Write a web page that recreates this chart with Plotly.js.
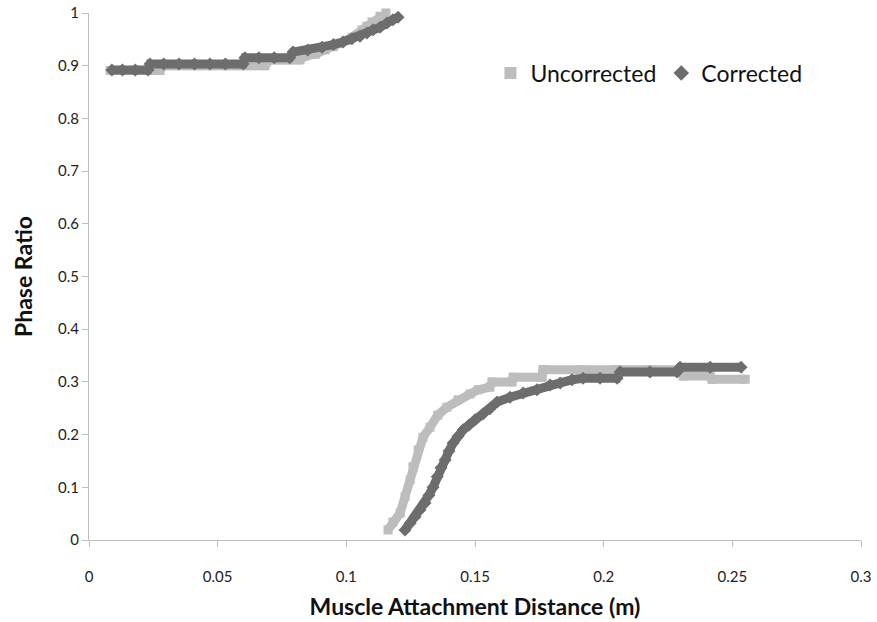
<!DOCTYPE html>
<html>
<head>
<meta charset="utf-8">
<script src="https://cdn.plot.ly/plotly-3.0.1.min.js"></script>
<style>
  html, body { margin: 0; padding: 0; background: #ffffff; }
  #chart { width: 877px; height: 622px; }
</style>
</head>
<body>
<div id="chart"></div>
<script>
// Uncorrected series (upper branch, gap, lower branch)
const uncorrectedX = [
  0.0082, 0.012, 0.016, 0.020, 0.024, 0.0276, 0.0288, 0.033, 0.038, 0.043, 0.048, 0.053, 0.058, 0.063, 0.0684,
  0.0703, 0.074, 0.078, 0.082, 0.0839, 0.088, 0.0917, 0.095, 0.0976, 0.100, 0.1022, 0.1061, 0.108, 0.110, 0.1131, 0.1154,
  null,
  0.1162, 0.1181, 0.1209, 0.1228, 0.1248, 0.1259, 0.1279, 0.1298, 0.1325, 0.1356, 0.1391, 0.1434, 0.1481, 0.1512,
  0.1558, 0.1566, 0.1644, 0.1648, 0.1761, 0.1764, 0.191, 0.2052, 0.218, 0.2297, 0.2309, 0.2414, 0.2421, 0.2550
];
const uncorrectedY = [
  0.891, 0.891, 0.891, 0.891, 0.891, 0.891, 0.900, 0.900, 0.900, 0.900, 0.900, 0.900, 0.900, 0.900, 0.900,
  0.911, 0.911, 0.911, 0.911, 0.918, 0.922, 0.930, 0.936, 0.943, 0.948, 0.954, 0.968, 0.975, 0.983, 0.994, 1.000,
  null,
  0.019, 0.034, 0.051, 0.082, 0.114, 0.139, 0.171, 0.195, 0.214, 0.237, 0.252, 0.266, 0.277, 0.285,
  0.290, 0.300, 0.300, 0.309, 0.309, 0.323, 0.323, 0.323, 0.323, 0.323, 0.311, 0.311, 0.305, 0.305
];

// Corrected series (upper branch, gap, lower branch)
const correctedX = [
  0.0089, 0.013, 0.018, 0.0229, 0.0237, 0.029, 0.035, 0.041, 0.047, 0.053, 0.0599,
  0.0606, 0.066, 0.072, 0.078, 0.0793, 0.085, 0.0906, 0.095, 0.0987, 0.1022, 0.1053, 0.108, 0.1104, 0.1131, 0.1158, 0.1181, 0.1201,
  null,
  0.1228, 0.1248, 0.1267, 0.1286, 0.1306, 0.1321, 0.1337, 0.1353, 0.1368, 0.1384, 0.1399, 0.1415, 0.1434, 0.1454,
  0.1477, 0.1500, 0.1531, 0.1558, 0.1586, 0.1636, 0.1687, 0.1741, 0.1792, 0.1831, 0.1877, 0.1920, 0.1986, 0.2052,
  0.2064, 0.2180, 0.2285, 0.2297, 0.2414, 0.2534
];
const correctedY = [
  0.892, 0.892, 0.892, 0.892, 0.903, 0.903, 0.903, 0.903, 0.903, 0.903, 0.903,
  0.915, 0.915, 0.915, 0.915, 0.926, 0.930, 0.935, 0.940, 0.945, 0.951, 0.956, 0.962, 0.968, 0.973, 0.981, 0.987, 0.992,
  null,
  0.019, 0.032, 0.044, 0.057, 0.070, 0.085, 0.100, 0.120, 0.137, 0.152, 0.169, 0.184, 0.197, 0.209,
  0.218, 0.228, 0.239, 0.249, 0.262, 0.271, 0.279, 0.285, 0.294, 0.298, 0.304, 0.307, 0.307, 0.307,
  0.319, 0.319, 0.319, 0.328, 0.328, 0.328
];

const seriesNames = ["Uncorrected", "Corrected"];
const lightGray = "#bdbdbd";
const darkGray = "#6d6d6d";
const FONT = "Lato, 'Open Sans', 'DejaVu Sans', sans-serif";

const traces = [
  { x: uncorrectedX, y: uncorrectedY, type: "scatter", mode: "lines", connectgaps: false,
    line: { color: lightGray, width: 9 }, showlegend: false, hoverinfo: "skip", cliponaxis: false },
  { x: uncorrectedX, y: uncorrectedY, type: "scatter", mode: "markers", name: seriesNames[0],
    marker: { symbol: "square", size: 9, color: lightGray }, cliponaxis: false },
  { x: correctedX, y: correctedY, type: "scatter", mode: "lines", connectgaps: false,
    line: { color: darkGray, width: 9 }, showlegend: false, hoverinfo: "skip", cliponaxis: false },
  { x: correctedX, y: correctedY, type: "scatter", mode: "markers", name: seriesNames[1],
    marker: { symbol: "diamond", size: 10, color: darkGray }, cliponaxis: false }
];

const layout = {
  width: 877, height: 622,
  paper_bgcolor: "#ffffff", plot_bgcolor: "#ffffff",
  margin: { l: 89, r: 16, t: 13, b: 82, pad: 0 },
  font: { family: FONT, size: 15, color: "#222222" },
  xaxis: {
    range: [0, 0.3], dtick: 0.05, tick0: 0,
    showgrid: false, zeroline: false,
    showline: true, linecolor: "#bfbfbf", linewidth: 1,
    ticks: "outside", ticklen: 6, tickcolor: "#bfbfbf", tickwidth: 1,
    ticklabelstandoff: 17,
    tickfont: { family: FONT, size: 15, color: "#222222" },
    title: { text: "Muscle Attachment Distance (m)", font: { family: FONT, size: 23, color: "#111111", weight: "bold" }, standoff: 14 }
  },
  yaxis: {
    range: [0, 1], dtick: 0.1, tick0: 0,
    showgrid: false, zeroline: false,
    showline: true, linecolor: "#bfbfbf", linewidth: 1,
    ticks: "outside", ticklen: 6, tickcolor: "#bfbfbf", tickwidth: 1,
    ticklabelstandoff: 0,
    tickfont: { family: FONT, size: 15, color: "#222222" },
    title: { text: "Phase Ratio", font: { family: FONT, size: 23, color: "#111111", weight: "bold" }, standoff: 18 }
  },
  legend: {
    orientation: "h", x: 0.52, y: 0.886, xanchor: "left", yanchor: "middle",
    font: { family: FONT, size: 23, color: "#111111" },
    bgcolor: "rgba(0,0,0,0)", itemsizing: "constant"
  },
  showlegend: true
};

Plotly.newPlot("chart", traces, layout, { staticPlot: true, displayModeBar: false });
</script>
</body>
</html>
